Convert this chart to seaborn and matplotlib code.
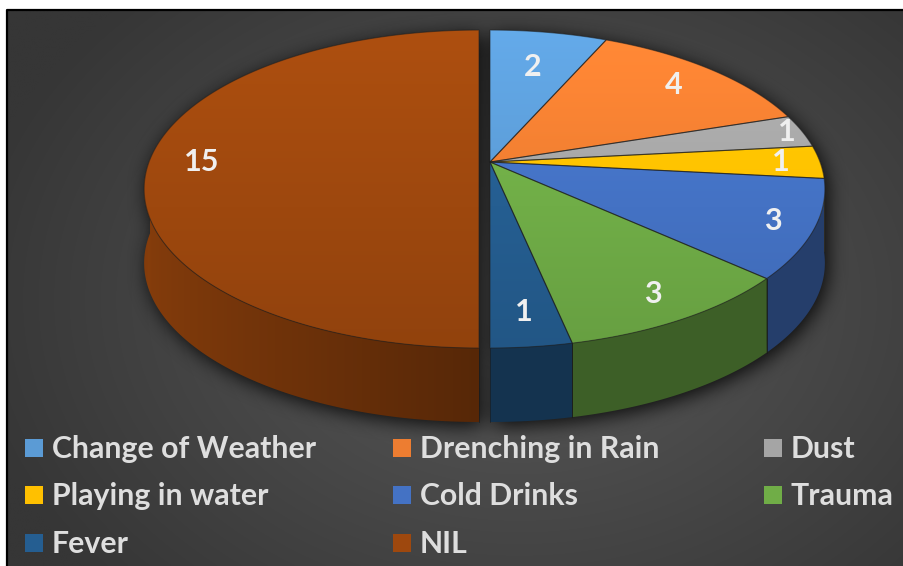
import numpy as np
import matplotlib
matplotlib.use("Agg")
import matplotlib.pyplot as plt
import seaborn as sns
from matplotlib.patches import Polygon, Rectangle
from matplotlib.path import Path
from matplotlib.colors import to_rgb

# ---- data -------------------------------------------------------------
categories = ["Change of Weather", "Drenching in Rain", "Dust", "Playing in water",
              "Cold Drinks", "Trauma", "Fever", "NIL"]
counts = [2, 4, 1, 1, 3, 3, 1, 15]
slice_colors = ["#5B9BD5", "#ED7D31", "#A5A5A5", "#FFC000",
                "#4472C4", "#70AD47", "#255E91", "#9E480E"]

# ---- style ------------------------------------------------------------
sns.set_theme(style="white")
plt.rcParams["font.family"] = ["Lato", "DejaVu Sans"]
palette = sns.color_palette(slice_colors)

W, H = 904, 566
fig = plt.figure(figsize=(W / 100, H / 100), dpi=100)
fig.patch.set_facecolor("white")
ax = fig.add_axes([0, 0, 1, 1])
ax.set_xlim(0, W)
ax.set_ylim(H, 0)
ax.axis("off")

# chart area (dark radial gradient with a thin black frame)
px0, py0 = 7, 10
gx, gy = np.meshgrid(np.linspace(px0, W, 450), np.linspace(py0, H, 280))
dist = np.sqrt(((gx - 520) / 560) ** 2 + ((gy - 300) / 420) ** 2)
dist = np.clip(dist, 0, 1)
inner, outer = np.array(to_rgb("#5a5a5a")), np.array(to_rgb("#363636"))
bg = inner[None, None, :] * (1 - dist[..., None]) + outer[None, None, :] * dist[..., None]
ax.imshow(bg, extent=(px0, W, H, py0), origin="upper", aspect="auto",
          zorder=0, interpolation="bilinear")
ax.plot([px0, px0, W], [H, py0, py0], color="black", lw=1.6, zorder=1,
        solid_capstyle="butt")

# ---- pie geometry (perspective-projected disc) -------------------------
cx_main, cy = 490.0, 162.0
nil_shift = -11.0          # the NIL slice is pulled out to the left
a_rad, b_rad, persp = 330.0, 154.4, 0.17
depth = 74.0


def proj(u, v, cx):
    s = 1.0 / (1.0 + persp * v)
    return cx + a_rad * u * s, cy - b_rad * v * s


total = float(sum(counts))
bounds = 90.0 - 360.0 * np.concatenate([[0], np.cumsum(counts)]) / total
centers = [cx_main + (nil_shift if c == "NIL" else 0.0) for c in categories]


def arc(t1, t2, cx, n=None):
    n = n or max(int(abs(t1 - t2) * 1.5), 4)
    t = np.radians(np.linspace(t1, t2, n))
    x, y = proj(np.cos(t), np.sin(t), cx)
    return np.column_stack([x, y]), t


outlines = []
tops = []
walls = []
for i, (cat, col) in enumerate(zip(categories, palette)):
    t1, t2 = bounds[i], bounds[i + 1]
    cx = centers[i]
    pts, t = arc(t1, t2, cx)
    cpt = np.array(proj(0.0, 0.0, cx))
    top_poly = np.vstack([cpt, pts])
    tops.append((top_poly, col))
    outlines.append(top_poly)
    front = np.sin(t) < 0.02
    if front.any():
        fp = pts[front]
        ft = t[front]
        wall_poly = np.vstack([fp, (fp + [0, depth])[::-1]])
        walls.append((wall_poly, fp, ft, col))
        outlines.append(wall_poly)

# drop shadow from a blurred mask of the pie silhouette
sx, sy = np.meshgrid(np.arange(0, W, 2) + 1.0, np.arange(0, H, 2) + 1.0)
grid = np.column_stack([sx.ravel(), sy.ravel()])
mask = np.zeros(sx.size)
for poly in outlines:
    mask = np.maximum(mask, Path(poly + [3, 4]).contains_points(grid))
mask = mask.reshape(sx.shape)


def box_blur(m, r):
    for axis in (0, 1):
        pad = [(0, 0), (0, 0)]
        pad[axis] = (r + 1, r)
        p = np.pad(m, pad, mode="edge")
        c = np.cumsum(p, axis=axis)
        if axis == 0:
            m = (c[2 * r + 1:] - c[:-2 * r - 1]) / (2 * r + 1)
        else:
            m = (c[:, 2 * r + 1:] - c[:, :-2 * r - 1]) / (2 * r + 1)
    return m


for _ in range(3):
    mask = box_blur(mask, 4)
shadow = np.zeros(mask.shape + (4,))
shadow[..., 3] = np.clip(mask * 0.85, 0, 1)
ax.imshow(shadow, extent=(0, W, H, 0), origin="upper", aspect="auto",
          zorder=2, interpolation="bilinear")

# side walls, lit from the left and darkening toward the front-right
for wall_poly, fp, ft, col in walls:
    patch = Polygon(wall_poly, closed=True, facecolor="none", edgecolor="none", zorder=3)
    ax.add_patch(patch)
    x0, x1 = wall_poly[:, 0].min(), wall_poly[:, 0].max()
    y0, y1 = wall_poly[:, 1].min(), wall_poly[:, 1].max()
    xs = np.linspace(x0, x1, 300)
    order = np.argsort(fp[:, 0])
    ang = np.interp(xs, fp[order, 0], ft[order])
    f = 0.55 + 0.30 * np.clip(np.cos(ang - np.pi), 0, None)
    img = np.clip(np.array(col)[None, :] * f[:, None], 0, 1)[None, :, :]
    im = ax.imshow(img, extent=(x0, x1, y1, y0), origin="upper", aspect="auto",
                   zorder=3, interpolation="bilinear")
    im.set_clip_path(patch)
    # seams between neighbouring walls, only where they face the viewer
    for k in (0, -1):
        if np.sin(ft[k]) < -0.2:
            ax.plot([fp[k][0], fp[k][0]], [fp[k][1], fp[k][1] + depth],
                    color="#1a1a1a", lw=0.7, alpha=0.6, zorder=3.5)

# top faces with a soft top-to-bottom gradient
y_top, y_bot = cy - b_rad / (1 + persp), cy + b_rad / (1 - persp)
for poly, col in tops:
    patch = Polygon(poly, closed=True, facecolor="none", edgecolor="none", zorder=4)
    ax.add_patch(patch)
    x0, x1 = poly[:, 0].min(), poly[:, 0].max()
    y0, y1 = poly[:, 1].min(), poly[:, 1].max()
    tt = np.linspace(y0, y1, 200)
    fr = 1.10 - 0.18 * (tt - y_top) / (y_bot - y_top)
    img = np.clip(np.array(col)[None, :] * fr[:, None], 0, 1)[:, None, :]
    im = ax.imshow(img, extent=(x0, x1, y1, y0), origin="upper", aspect="auto",
                   zorder=4, interpolation="bilinear")
    im.set_clip_path(patch)
    ax.add_patch(Polygon(poly, closed=True, facecolor="none",
                         edgecolor=(0.12, 0.12, 0.12, 0.55), lw=0.8, zorder=5))

# value labels along each slice's bisector
label_r = [0.70, 0.82, 0.95, 0.88, 0.88, 0.86, 0.84, 0.84]
for i, val in enumerate(counts):
    mid = np.radians(0.5 * (bounds[i] + bounds[i + 1]))
    lx, ly = proj(label_r[i] * np.cos(mid), label_r[i] * np.sin(mid), centers[i])
    ax.text(lx, ly, str(val), color="#F0F0F0", fontsize=22, fontweight="bold",
            ha="center", va="center", zorder=6)

# legend: three columns, filled row by row
col_x = [25, 393, 764]
row_y = [448, 495, 543]
for i, (cat, col) in enumerate(zip(categories, palette)):
    r, c = divmod(i, 3)
    x, y = col_x[c], row_y[r]
    ax.add_patch(Rectangle((x, y - 9), 18, 18, facecolor=col, edgecolor="none", zorder=6))
    ax.text(x + 27, y + 1, cat, color="#DEDEDE", fontsize=21.8, fontweight="bold",
            ha="left", va="center", zorder=6)

fig.savefig("out.png", dpi=100, facecolor=fig.get_facecolor())
